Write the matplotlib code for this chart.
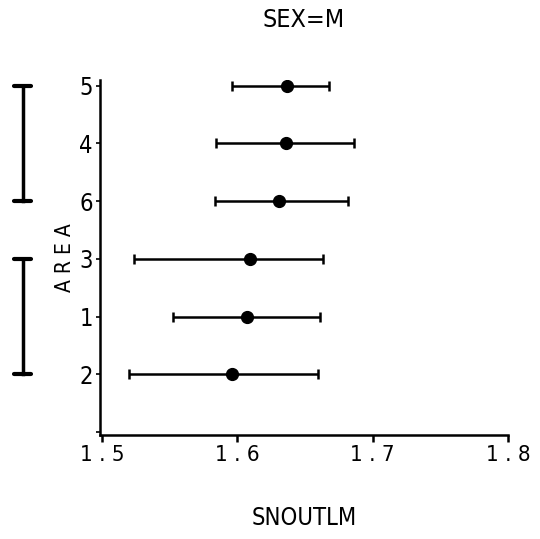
import matplotlib
matplotlib.use("Agg")
import matplotlib.pyplot as plt
import matplotlib.transforms as mtransforms

areas = ["2", "1", "3", "6", "4", "5"]
means = [1.596, 1.6075, 1.6097, 1.6306, 1.6358, 1.637]
lower = [1.5197, 1.5522, 1.5238, 1.5836, 1.5839, 1.5957]
upper = [1.6596, 1.6611, 1.6636, 1.6820, 1.6862, 1.6677]
groups = [("3", "2"), ("5", "6")]
xticks = [1.5, 1.6, 1.7, 1.8]
xticklabels = ["1 . 5", "1 . 6", "1 . 7", "1 . 8"]

plt.rcParams['font.family'] = ["DejaVu Sans"]
plt.rcParams['font.stretch'] = 'condensed'

fig = plt.figure(figsize=(5.4, 5.39), dpi=100)
ax = fig.add_axes([0.185, 0.193, 0.756, 0.659])

ypos = list(range(1, len(areas) + 1))
xerr = [[m - l for m, l in zip(means, lower)], [u - m for m, u in zip(means, upper)]]
ax.errorbar(means, ypos, xerr=xerr, fmt='o', color='black', ecolor='black',
            elinewidth=1.8, capsize=3.6, capthick=1.8, markersize=8.5)

ax.set_xlim(1.4985, 1.8)
ax.set_ylim(-0.05, 6.1)
ax.set_xticks(xticks)
ax.set_xticklabels(xticklabels)
ax.set_yticks([0] + ypos)
ax.set_yticklabels([""] + areas)

for s in ['top', 'right']:
    ax.spines[s].set_visible(False)
for s in ['left', 'bottom']:
    ax.spines[s].set_linewidth(1.8)
ax.tick_params(axis='x', direction='out', length=5, width=1.8, labelsize=16, pad=2)
ax.tick_params(axis='y', direction='out', length=3, width=1.2, labelsize=17, pad=2)

ax.set_xlabel("SNOUTLM", fontsize=17, labelpad=30)
ax.set_ylabel("A R E A", fontsize=15, labelpad=3)
ax.set_title("SEX=M", fontsize=18, pad=38)

trans = mtransforms.blended_transform_factory(fig.transFigure, ax.transData)
bx = 22.5 / 540
cw = 8 / 540
for top, bot in groups:
    yt = ypos[areas.index(top)]
    yb = ypos[areas.index(bot)]
    ax.plot([bx, bx], [yb, yt], color='black', lw=2.5, transform=trans, clip_on=False)
    for yy in (yt, yb):
        ax.plot([bx - cw, bx + cw], [yy, yy], color='black', lw=3, transform=trans,
                clip_on=False, solid_capstyle='round')

fig.savefig("out.png", dpi=100)
